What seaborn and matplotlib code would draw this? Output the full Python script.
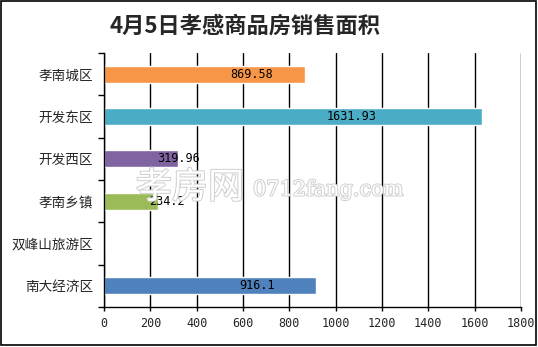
import matplotlib
matplotlib.use("Agg")
import matplotlib.pyplot as plt
import matplotlib.patheffects as pe
import seaborn as sns
import pandas as pd

categories = ["孝南城区", "开发东区", "开发西区", "孝南乡镇", "双峰山旅游区", "南大经济区"]
values = [869.58, 1631.93, 319.96, 234.2, 0, 916.1]
labels = ["869.58", "1631.93", "319.96", "234.2", "", "916.1"]
colors = ["#F79646", "#4BACC6", "#8064A2", "#9BBB59", "#C0504D", "#4F81BD"]
xticks = [0, 200, 400, 600, 800, 1000, 1200, 1400, 1600, 1800]
title = "4月5日孝感商品房销售面积"

sns.set_theme(style="white")
plt.rcParams["font.family"] = ["Noto Sans CJK SC", "DejaVu Sans"]

df = pd.DataFrame({"cat": categories, "val": values})

fig = plt.figure(figsize=(5.38, 3.47), dpi=100)
fig.patch.set_facecolor("white")
ax = fig.add_axes([104/538, 1-307/347, 417/538, 254/347])

sns.barplot(data=df, y="cat", x="val", hue="cat", palette=colors, order=categories,
            hue_order=categories, orient="h", width=0.4, legend=False, ax=ax, saturation=1)

ax.set_xlim(0, 1800)
ax.set_xticks(xticks)
ax.set_xticklabels([str(t) for t in xticks], family="DejaVu Sans Mono", fontsize=8.5)
ax.set_xlabel("")
ax.set_ylabel("")
for s in ["top", "right"]:
    ax.spines[s].set_visible(False)
for s in ["left", "bottom"]:
    ax.spines[s].set_color("black")
    ax.spines[s].set_linewidth(1)
ax.xaxis.grid(True, color="black", linewidth=1)
ax.set_axisbelow(True)
ax.tick_params(axis="x", direction="out", length=3, width=1, color="black", bottom=True, pad=4)
ax.set_yticks(range(len(categories)))
ax.set_yticklabels(categories, fontsize=9.8)
ax.tick_params(axis="y", length=0, pad=8)
ax.set_yticks([i + 0.5 for i in range(-1, len(categories))], minor=True)
ax.tick_params(axis="y", which="minor", direction="out", length=4, width=1, color="black", left=True)
ax.set_ylim(len(categories) - 0.5, -0.5)

for i, (v, lab) in enumerate(zip(values, labels)):
    if lab:
        ax.text(v * 0.57 + 140, i, lab, ha="center", va="center", fontsize=8.5,
                family="DejaVu Sans Mono", color="black", zorder=5)

# watermark
stroke = [pe.withStroke(linewidth=1.4, foreground="#cfcfcf")]
fig.text(190/538, 1-188/347, "孝房网", fontsize=26, color="white", ha="center", va="center",
         path_effects=stroke, zorder=1)
fig.text(253/538, 1-190/347, "0712fang.com", fontsize=15, color="white", ha="left", va="center",
         family="DejaVu Serif", path_effects=stroke, zorder=1)

fig.text(245/538, 1-26/347, title, fontsize=16, fontweight="bold", ha="center", va="center")

border = plt.Rectangle((0.002, 0.005), 0.994, 0.992, transform=fig.transFigure,
                       fill=False, edgecolor="black", linewidth=1.2)
fig.add_artist(border)

fig.savefig("out.png", dpi=100)
